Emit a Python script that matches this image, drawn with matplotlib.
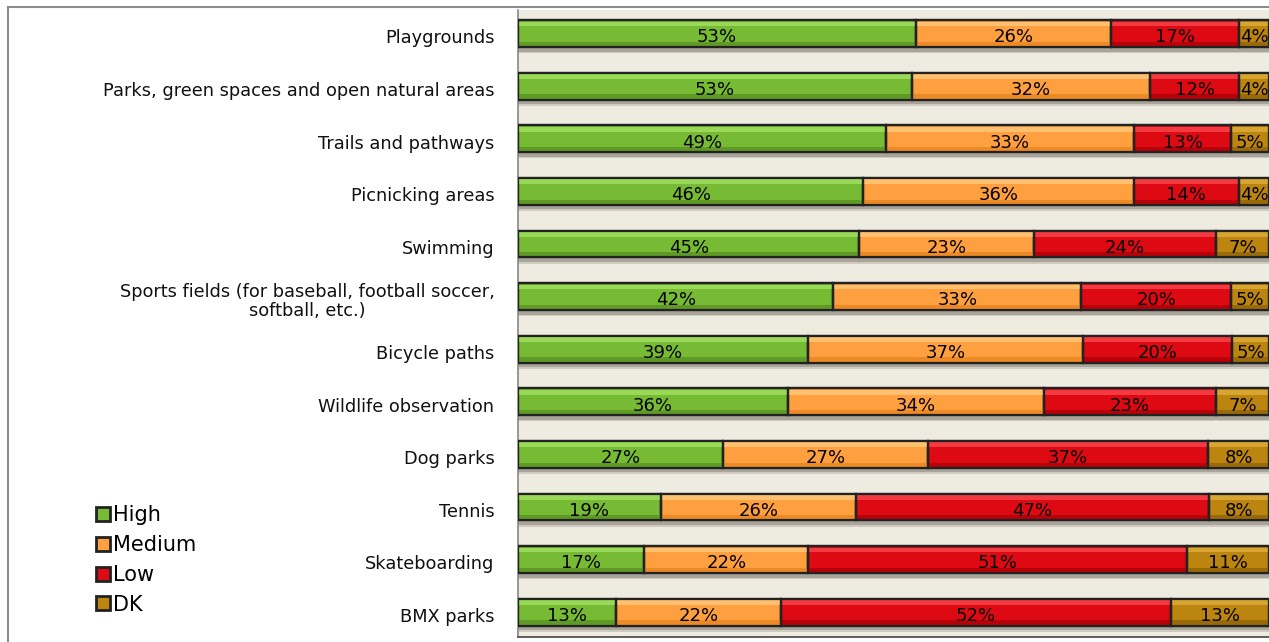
import matplotlib
matplotlib.use("Agg")
import matplotlib.pyplot as plt
from matplotlib.patches import Rectangle
from matplotlib.lines import Line2D
from matplotlib.transforms import ScaledTranslation
import numpy as np

categories = [
    "Playgrounds",
    "Parks, green spaces and open natural areas",
    "Trails and pathways",
    "Picnicking areas",
    "Swimming",
    "Sports fields (for baseball, football soccer,\nsoftball, etc.)",
    "Bicycle paths",
    "Wildlife observation",
    "Dog parks",
    "Tennis",
    "Skateboarding",
    "BMX parks",
]
high   = [53, 53, 49, 46, 45, 42, 39, 36, 27, 19, 17, 13]
medium = [26, 32, 33, 36, 23, 33, 37, 34, 27, 26, 22, 22]
low    = [17, 12, 13, 14, 24, 20, 20, 23, 37, 47, 51, 52]
dk     = [4, 4, 5, 4, 7, 5, 5, 7, 8, 8, 11, 13]
series_names = ["High", "Medium", "Low", "DK"]

colors = ["#77BB35", "#FFA040", "#DD0A14", "#BB8510"]
light = ["#9AD858", "#FFC070", "#F23A40", "#D8A530"]
dark = ["#5E9A25", "#EE8A25", "#B80008", "#9A6A08"]

W, H = 1269, 642
fig = plt.figure(figsize=(W / 100, H / 100), dpi=100)
fig.patch.set_facecolor("white")

# outer frame lines
fig.add_artist(Line2D([8 / W, 8 / W], [0, 1 - 7 / H], color="#8C8C8C", lw=1.5, transform=fig.transFigure))
fig.add_artist(Line2D([8 / W, 1], [1 - 7 / H, 1 - 7 / H], color="#8C8C8C", lw=1.5, transform=fig.transFigure))

ax = fig.add_axes([518 / W, 1 - 637 / H, 751 / W, 627 / H])
ax.set_facecolor("#EEEBE1")

data = np.array([high, medium, low, dk], dtype=float)
totals = data.sum(axis=0)
shares = data / totals * 100
y = np.arange(len(categories))
bh = 0.51

# shadows
ax.barh(y + bh / 2 + 0.045, [100] * len(y), height=0.09, left=0, color="#A9A59B", zorder=1)
ax.barh(y + bh / 2 + 0.1, [100] * len(y), height=0.03, left=0, color="#CFCBC1", zorder=1)

left = np.zeros(len(y))
for k in range(4):
    w = shares[k]
    ax.barh(y, w, left=left, height=bh, color=colors[k], edgecolor="#222222", linewidth=1.6, zorder=3)
    ax.barh(y - bh / 2 + 0.07, w, left=left, height=0.09, color=light[k], linewidth=0, zorder=3.5)
    ax.barh(y + bh / 2 - 0.06, w, left=left, height=0.08, color=dark[k], linewidth=0, zorder=3.5)
    ax.barh(y, w, left=left, height=bh, facecolor="none", edgecolor="#222222", linewidth=1.6, zorder=4)
    for i in range(len(y)):
        ax.text(left[i] + w[i] / 2, y[i] + 0.07, f"{int(data[k][i])}%", ha="center", va="center",
                fontsize=13, color="#000000", zorder=5)
    left += w

ax.set_xlim(0, 100)
ax.set_ylim(11.47, -0.45)
ax.set_yticks(y)
ax.set_yticklabels(categories, fontsize=12.8, color="#111111", ha="right", multialignment="center",
                   linespacing=1.05)
ax.tick_params(axis="y", length=0, pad=17)
for lbl in ax.get_yticklabels():
    lbl.set_transform(lbl.get_transform() + ScaledTranslation(0, -2 / 72, fig.dpi_scale_trans))
ax.set_xticks([])
for s in ["top", "right"]:
    ax.spines[s].set_visible(False)
ax.spines["left"].set_color("#888888")
ax.spines["left"].set_linewidth(1.2)
ax.spines["bottom"].set_color("#444444")
ax.spines["bottom"].set_linewidth(1.2)

# legend
handles = [Rectangle((0, 0), 1, 1, facecolor=colors[k], edgecolor="#222222", linewidth=2.0) for k in range(4)]
fig.legend(handles, series_names, loc="upper left", bbox_to_anchor=(88 / W, 1 - 497 / H),
           frameon=False, fontsize=15, handlelength=0.65, handleheight=0.65, handletextpad=0.15,
           labelspacing=0.47, borderaxespad=0)

fig.savefig("out.png", dpi=100)
